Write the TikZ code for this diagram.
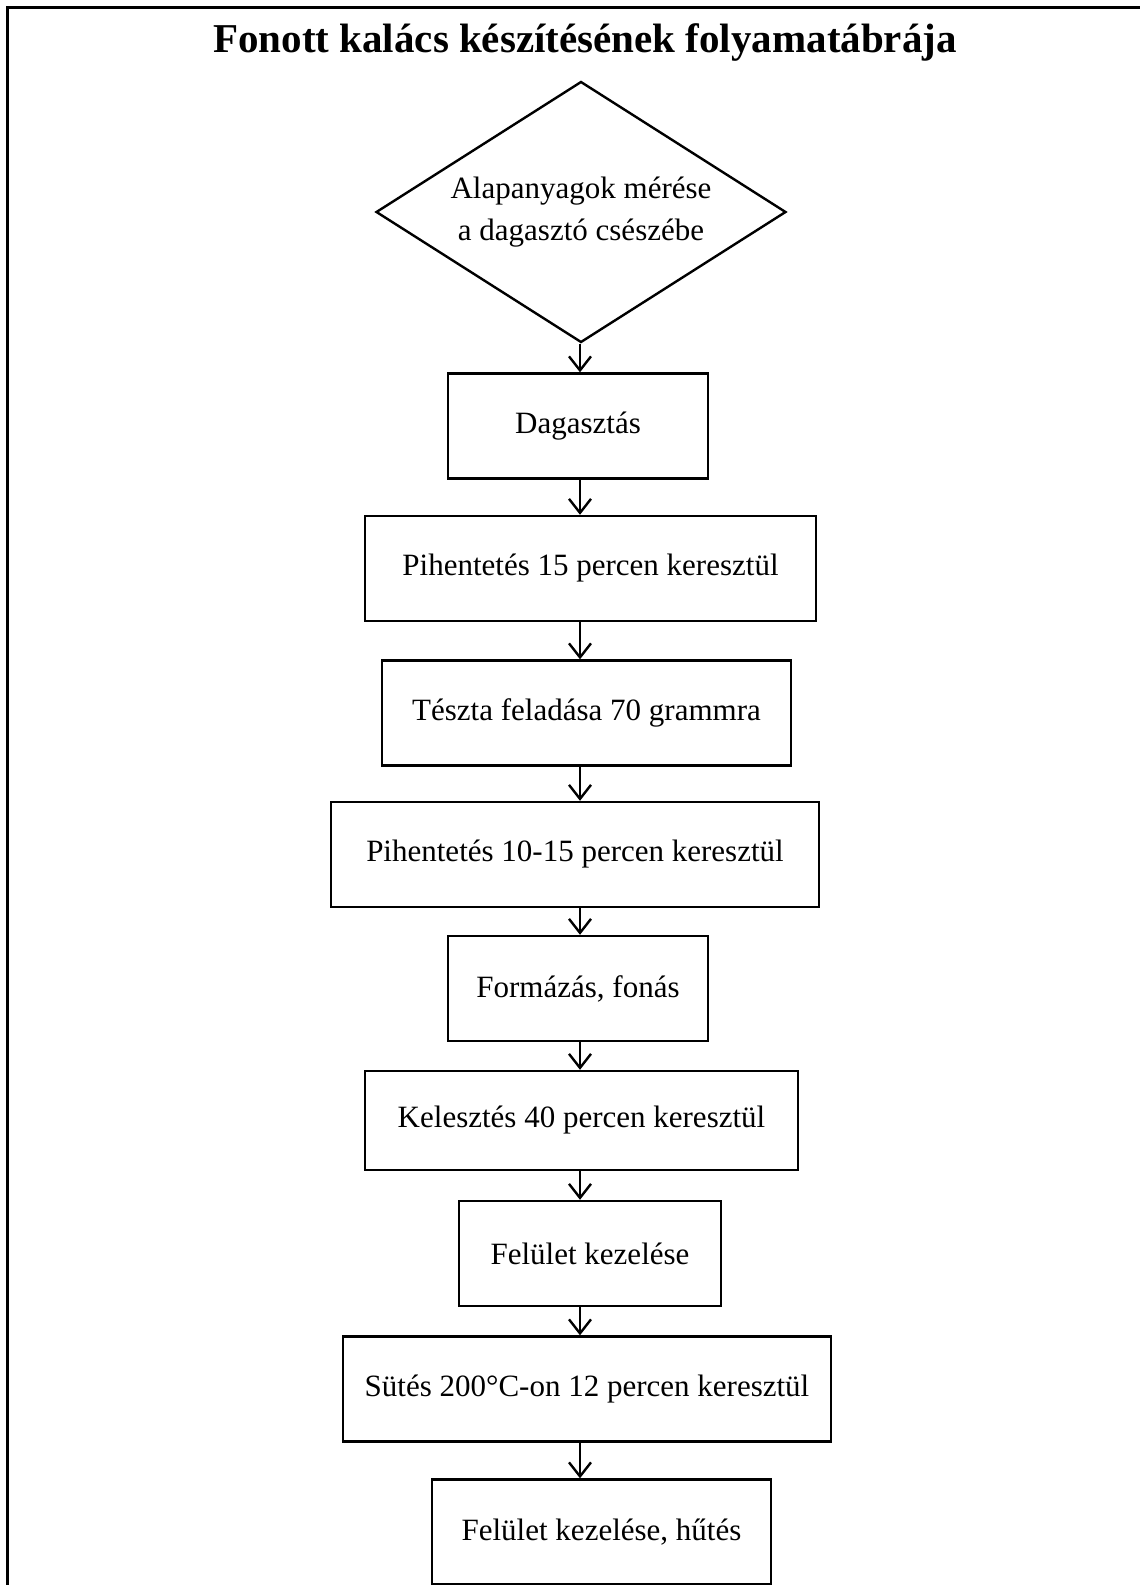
\documentclass[tikz,border=0pt]{standalone}
\usepackage{fontspec}
\setmainfont{Liberation Serif}
\usetikzlibrary{arrows.meta, positioning, shapes.geometric}

\begin{document}
\begin{tikzpicture}[
    x=0.5pt, y=-0.5pt,
    frame/.style={line width=1.5pt},
    box/.style={rectangle, draw, line width=1.2pt, minimum width=#1,
                minimum height=52.5pt, inner sep=0pt, align=center,
                font=\fontsize{15.5}{21}\selectfont},
    decision/.style={diamond, draw, line width=1.2pt, aspect=1.57,
                minimum width=205pt, minimum height=130.5pt, inner sep=0pt,
                align=center, font=\fontsize{15.5}{21}\selectfont},
    arrow/.style={-{Straight Barb[length=7pt, width=11pt]}, line width=1.2pt}
  ]
    \useasboundingbox (0,0) rectangle (1140,1585);
    \clip (0,0) rectangle (1140,1585);
    \draw[frame] (7,1600) -- (7,7) -- (1150,7);

    \node[font=\bfseries\fontsize{20.5}{24}\selectfont] (title) at (585,42)
      {Fonott kalács készítésének folyamatábrája};

    \coordinate (spine) at (580,0);

    \node[decision] (meres) at (581,212) {Alapanyagok mérése\\a dagasztó csészébe};
    \node[box=130pt] (dagasztas) at (578,426) {Dagasztás};
    \node[box=225.5pt] (pihen1) at (590.5,568.5) {Pihentetés 15 percen keresztül};
    \node[box=204.5pt] (felad) at (586.5,713) {Tészta feladása 70 grammra};
    \node[box=244pt] (pihen2) at (575,854.5) {Pihentetés 10-15 percen keresztül};
    \node[box=130pt] (formazas) at (578,988.5) {Formázás, fonás};
    \node[box=216.5pt, minimum height=49.5pt] (keleszt) at (581.5,1120.5) {Kelesztés 40 percen keresztül};
    \node[box=131pt] (kezel1) at (590,1253.5) {Felület kezelése};
    \node[box=244pt] (sutes) at (587,1389) {Sütés 200°C-on 12 percen keresztül};
    \node[box=169.5pt] (kezel2) at (601.5,1532) {Felület kezelése, hűtés};

    \draw[arrow] (meres.south -| spine) -- (dagasztas.north -| spine);
    \draw[arrow] (dagasztas.south -| spine) -- (pihen1.north -| spine);
    \draw[arrow] (pihen1.south -| spine) -- (felad.north -| spine);
    \draw[arrow] (felad.south -| spine) -- (pihen2.north -| spine);
    \draw[arrow] (pihen2.south -| spine) -- (formazas.north -| spine);
    \draw[arrow] (formazas.south -| spine) -- (keleszt.north -| spine);
    \draw[arrow] (keleszt.south -| spine) -- (kezel1.north -| spine);
    \draw[arrow] (kezel1.south -| spine) -- (sutes.north -| spine);
    \draw[arrow] (sutes.south -| spine) -- (kezel2.north -| spine);
  \end{tikzpicture}
\end{document}
